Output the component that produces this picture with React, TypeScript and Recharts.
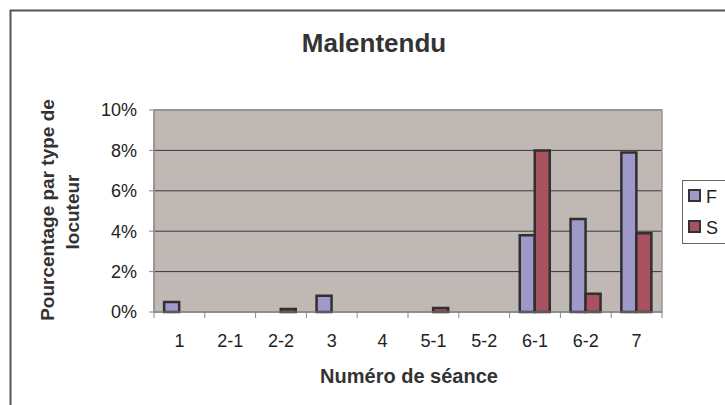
import { BarChart, Bar, XAxis, YAxis, CartesianGrid, ReferenceArea } from 'recharts';

// Numéro de séance
const sessions = ['1', '2-1', '2-2', '3', '4', '5-1', '5-2', '6-1', '6-2', '7'];
// pourcentage par type de locuteur
const fValues = [0.5, 0, 0, 0.8, 0, 0, 0, 3.8, 4.6, 7.9];
const sValues = [0, 0, 0.15, 0, 0, 0.2, 0, 8.0, 0.9, 3.9];
const yTicks = [0, 2, 4, 6, 8, 10];

const series = [
  { key: 'F', values: fValues, color: '#9F99CA' },
  { key: 'S', values: sValues, color: '#A8515F' },
];

const W = 725;
const H = 405;
const PLOT_LEFT = 154;
const PLOT_RIGHT = 662;
const PLOT_TOP = 110;
const PLOT_BOTTOM = 312;
const Y_AXIS_W = 60;
const X_AXIS_H = 40;
const BAND = (PLOT_RIGHT - PLOT_LEFT) / sessions.length;
const FONT = '"Liberation Sans", Arial, Helvetica, sans-serif';
const TEXT = '#222';
const TICK_SIZE = 5;
const TICK_MARGIN = 4;

const data = sessions.map((s, i) => {
  const row: Record<string, unknown> = { name: s };
  series.forEach((se) => {
    row[se.key] = se.values[i];
  });
  return row;
});

function SessionTick(props: any) {
  const { x, y, payload, index } = props;
  const axisY = y - TICK_SIZE - TICK_MARGIN;
  return (
    <g>
      <line x1={x - BAND / 2} x2={x - BAND / 2} y1={axisY} y2={axisY + 6} stroke="#888" />
      {index === sessions.length - 1 && (
        <line x1={x + BAND / 2} x2={x + BAND / 2} y1={axisY} y2={axisY + 6} stroke="#888" />
      )}
      <text
        x={x}
        y={axisY + 35}
        textAnchor="middle"
        fontSize={18}
        fontFamily={FONT}
        fill={TEXT}
      >
        {payload.value}
      </text>
    </g>
  );
}

export default function App() {
  return (
    <div style={{ position: 'absolute', left: 0, top: 0, width: W, height: H, background: '#fff' }}>
      <BarChart
        width={W}
        height={H}
        data={data}
        margin={{
          top: PLOT_TOP,
          right: W - PLOT_RIGHT,
          bottom: H - PLOT_BOTTOM - X_AXIS_H,
          left: PLOT_LEFT - Y_AXIS_W,
        }}
        barCategoryGap="20%"
        barGap={0}
      >
        <CartesianGrid vertical={false} stroke="#3a3a3a" fill="#C0B8B5" fillOpacity={1} />
        <ReferenceArea y1={0} y2={10} fill="none" stroke="#9a9696" strokeWidth={1.5} />
        <XAxis
          dataKey="name"
          height={X_AXIS_H}
          axisLine={{ stroke: '#888' }}
          tickLine={false}
          tickSize={TICK_SIZE}
          tickMargin={TICK_MARGIN}
          tick={<SessionTick />}
          interval={0}
        />
        <YAxis
          width={Y_AXIS_W}
          domain={[0, 10]}
          ticks={yTicks}
          tickFormatter={(v: number) => `${v}%`}
          axisLine={{ stroke: '#888' }}
          tickLine={{ stroke: '#888' }}
          tickSize={TICK_SIZE}
          tickMargin={12}
          tick={{ fontSize: 18, fontFamily: FONT, fill: TEXT }}
          interval={0}
        />
        {series.map((se) => (
          <Bar
            key={se.key}
            dataKey={se.key}
            fill={se.color}
            stroke="#303030"
            strokeWidth={2.5}
            isAnimationActive={false}
          />
        ))}
      </BarChart>
      <svg
        width={W}
        height={H}
        style={{ position: 'absolute', left: 0, top: 0, pointerEvents: 'none' }}
        fontFamily={FONT}
      >
        <rect x={10.5} y={10.5} width={W + 20} height={H + 20} fill="none" stroke="#555" strokeWidth={2} />
        <text x={374} y={52} textAnchor="middle" fontSize={26} fontWeight="bold" fill="#333">
          Malentendu
        </text>
        <text
          transform="translate(54,210) rotate(-90)"
          textAnchor="middle"
          fontSize={19}
          fontWeight="bold"
          fill="#333"
        >
          Pourcentage par type de
        </text>
        <text
          transform="translate(79,212) rotate(-90)"
          textAnchor="middle"
          fontSize={19}
          fontWeight="bold"
          fill="#333"
        >
          locuteur
        </text>
        <text x={409} y={383} textAnchor="middle" fontSize={20} fontWeight="bold" fill="#333">
          Numéro de séance
        </text>
        <rect x={682.5} y={180.5} width={60} height={63} fill="#fff" stroke="#666" />
        {series.map((se, i) => (
          <g key={se.key}>
            <rect
              x={689}
              y={190 + i * 31}
              width={11}
              height={11}
              fill={se.color}
              stroke="#333"
              strokeWidth={2}
            />
            <text x={706} y={203 + i * 31} fontSize={18} fill={TEXT}>
              {se.key}
            </text>
          </g>
        ))}
      </svg>
    </div>
  );
}
